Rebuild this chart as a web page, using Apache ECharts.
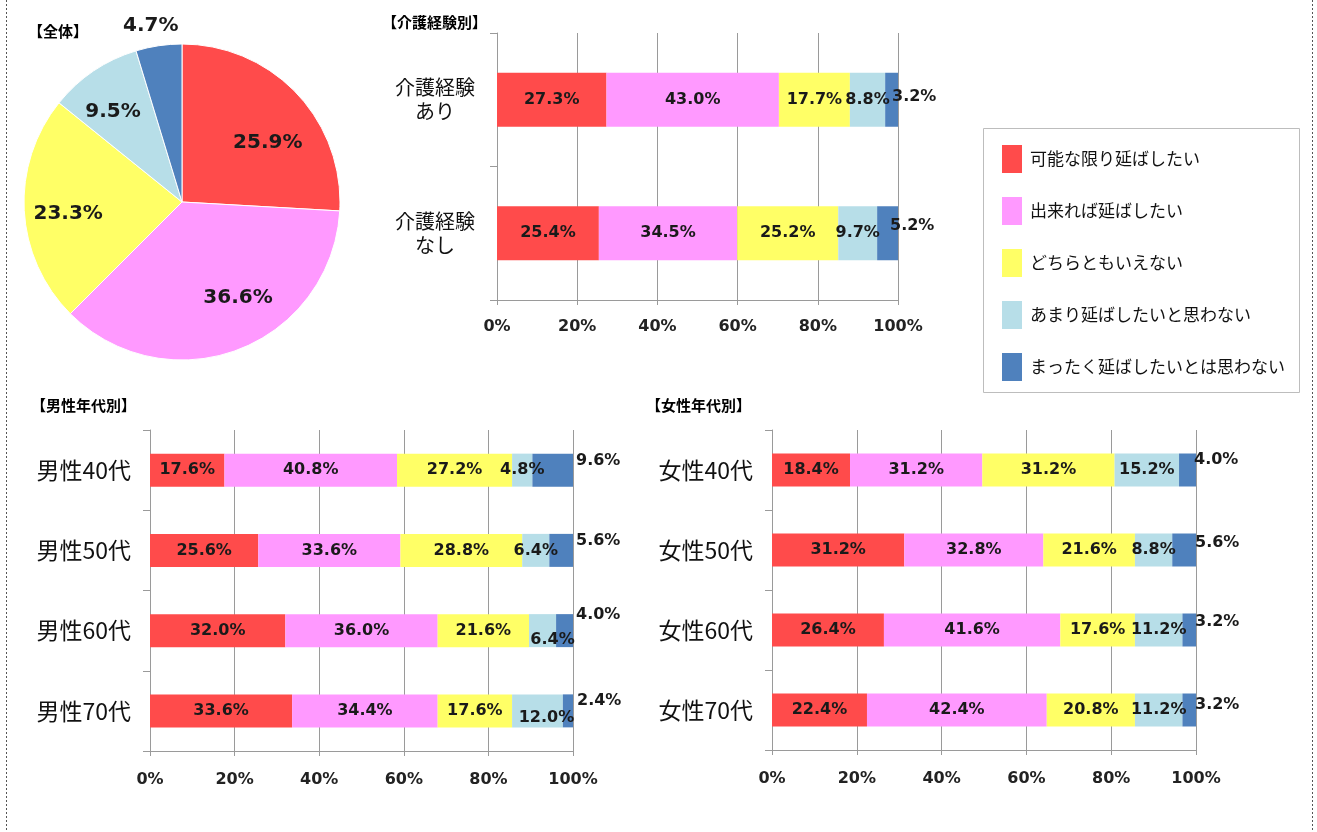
<!DOCTYPE html>
<html>
<head>
<meta charset="utf-8">
<script src="https://cdn.jsdelivr.net/npm/echarts@6/dist/echarts.min.js"></script>
<style>
html,body{margin:0;padding:0;background:#fff;}
#chart{width:1317px;height:832px;}
</style>
</head>
<body>
<div id="chart"></div>
<script>
// ---- data ----
const answerNames = ['可能な限り延ばしたい','出来れば延ばしたい','どちらともいえない','あまり延ばしたいと思わない','まったく延ばしたいとは思わない'];
const pieValues = [25.9, 36.6, 23.3, 9.5, 4.7];

const careCategories = ['介護経験\nあり', '介護経験\nなし'];
const careRed    = [27.3, 25.4];
const carePink   = [43.0, 34.5];
const careYellow = [17.7, 25.2];
const careLight  = [8.8, 9.7];
const careDark   = [3.2, 5.2];

const maleCategories = ['男性40代', '男性50代', '男性60代', '男性70代'];
const maleRed    = [17.6, 25.6, 32.0, 33.6];
const malePink   = [40.8, 33.6, 36.0, 34.4];
const maleYellow = [27.2, 28.8, 21.6, 17.6];
const maleLight  = [4.8, 6.4, 6.4, 12.0];
const maleDark   = [9.6, 5.6, 4.0, 2.4];

const femaleCategories = ['女性40代', '女性50代', '女性60代', '女性70代'];
const femaleRed    = [18.4, 31.2, 26.4, 22.4];
const femalePink   = [31.2, 32.8, 41.6, 42.4];
const femaleYellow = [31.2, 21.6, 17.6, 20.8];
const femaleLight  = [15.2, 8.8, 11.2, 11.2];
const femaleDark   = [4.0, 5.6, 3.2, 3.2];

const axisTicks = [0, 20, 40, 60, 80, 100];

// ---- styles ----
const colors = ['#FF4B4B', '#FF99FF', '#FFFF66', '#B7DEE8', '#4F81BD'];
const numFont = 'DejaVu Sans';
const jpFont = '"Noto Sans CJK JP", sans-serif';
const gridColor = '#9a9a9a';
const pieLabelNudges = [[0, 22], [14, -14], [4, 5], [-3, 8], [26, -12]];

const charts = [
  { cats: careCategories, series: [careRed, carePink, careYellow, careLight, careDark],
    grid: {left: 497, top: 33, width: 401, height: 267}, barWidth: 54,
    catLabel: {fontSize: 20, lineHeight: 24, align: 'center', margin: 62},
    xMargin: 19, outside: [[-8, -3], [-10, -7]], nudges: {} },
  { cats: maleCategories, series: [maleRed, malePink, maleYellow, maleLight, maleDark],
    grid: {left: 150, top: 430, width: 423, height: 321}, barWidth: 33,
    catLabel: {fontSize: 23, align: 'right', margin: 19},
    xMargin: 21, outside: [[1, -9], [1, -10], [1, -16], [2, -10]],
    nudges: {'3-2': [10, 9], '3-3': [9, 7]} },
  { cats: femaleCategories, series: [femaleRed, femalePink, femaleYellow, femaleLight, femaleDark],
    grid: {left: 772, top: 430, width: 424, height: 320}, barWidth: 33,
    catLabel: {fontSize: 23, align: 'right', margin: 19},
    xMargin: 21, outside: [[-4, -10], [-3, -7], [-3, -8], [-3, -5]], nudges: {} }
];

const fmt = p => Number(p.value).toFixed(1) + '%';

const grids = [], xAxes = [], yAxes = [], series = [];
charts.forEach((c, gi) => {
  grids.push(Object.assign({containLabel: false}, c.grid));
  xAxes.push({
    type: 'value', gridIndex: gi, min: axisTicks[0], max: axisTicks[axisTicks.length - 1],
    interval: axisTicks[1] - axisTicks[0],
    axisLine: {show: true, lineStyle: {color: gridColor}},
    axisTick: {show: true, length: 5, lineStyle: {color: gridColor}},
    splitLine: {show: true, lineStyle: {color: gridColor, width: 1}},
    axisLabel: {formatter: '{value}%', fontFamily: numFont, fontWeight: 'bold', fontSize: 16, color: '#222', margin: c.xMargin}
  });
  yAxes.push({
    type: 'category', gridIndex: gi, inverse: true, data: c.cats,
    axisLine: {show: true, lineStyle: {color: gridColor}},
    axisTick: {show: true, length: 7, lineStyle: {color: gridColor}},
    axisLabel: Object.assign({fontFamily: jpFont, color: '#111'}, c.catLabel)
  });
  c.series.forEach((vals, si) => {
    const isLast = si === c.series.length - 1;
    series.push({
      type: 'bar', name: answerNames[si], stack: 'stack' + gi,
      xAxisIndex: gi, yAxisIndex: gi, barWidth: c.barWidth,
      itemStyle: {color: colors[si]},
      label: {
        show: true, formatter: fmt,
        position: isLast ? 'right' : 'inside', distance: 2,
        fontFamily: numFont, fontWeight: 'bold', fontSize: 16, color: '#1a1a1a'
      },
      data: vals.map((v, di) => {
        if (isLast) return {value: v, label: {offset: c.outside[di]}};
        const n = c.nudges[si + '-' + di];
        return n ? {value: v, label: {offset: n}} : v;
      })
    });
  });
});

const pieData = pieValues.map((v, i) => ({name: answerNames[i], value: v, itemStyle: {color: colors[i]}}));
const pieLabelData = pieValues.map((v, i) => ({
  name: answerNames[i], value: v,
  label: i === pieValues.length - 1 ? {position: 'outside'} : {position: 'inside'}
}));

series.push({
  type: 'pie', name: '全体', center: [182, 202], radius: [0, 158], startAngle: 90, clockwise: true,
  silent: true, label: {show: false}, labelLine: {show: false},
  itemStyle: {borderColor: '#fff', borderWidth: 1},
  data: pieData
});
series.push({
  type: 'pie', name: '全体ラベル', center: [182, 202], radius: [72, 158], startAngle: 90, clockwise: true,
  silent: true, itemStyle: {color: 'rgba(0,0,0,0)'},
  label: {show: true, formatter: fmt, fontFamily: numFont, fontWeight: 'bold', fontSize: 20, color: '#1a1a1a'},
  labelLine: {show: false, length: 8, length2: 0},
  labelLayout: p => ({dx: pieLabelNudges[p.dataIndex][0], dy: pieLabelNudges[p.dataIndex][1]}),
  data: pieLabelData
});

const titleStyle = {fontFamily: jpFont, fontWeight: 'bold', fontSize: 15, color: '#000'};
const option = {
  animation: false,
  backgroundColor: '#fff',
  title: [
    {text: '【全体】', left: 28, top: 24, padding: 0, textStyle: titleStyle},
    {text: '【介護経験別】', left: 382, top: 15, padding: 0, textStyle: titleStyle},
    {text: '【男性年代別】', left: 31, top: 398, padding: 0, textStyle: titleStyle},
    {text: '【女性年代別】', left: 646, top: 398, padding: 0, textStyle: titleStyle}
  ],
  legend: {
    data: answerNames, orient: 'vertical', left: 1002, top: 145, padding: 0,
    itemWidth: 20, itemHeight: 28, itemGap: 24, icon: 'rect', selectedMode: false,
    textStyle: {fontFamily: jpFont, fontSize: 17, color: '#111', padding: [0, 0, 0, 3]}
  },
  grid: grids, xAxis: xAxes, yAxis: yAxes, series: series,
  graphic: [
    {type: 'rect', shape: {x: 983.5, y: 128.5, width: 316, height: 264}, style: {fill: 'none', stroke: '#bdbdbd', lineWidth: 1}, silent: true},
    {type: 'line', shape: {x1: 6.5, y1: 0, x2: 6.5, y2: 832}, style: {stroke: '#555', lineWidth: 1, lineDash: [2, 2]}, silent: true},
    {type: 'line', shape: {x1: 1312.5, y1: 0, x2: 1312.5, y2: 832}, style: {stroke: '#555', lineWidth: 1, lineDash: [2, 2]}, silent: true}
  ]
};

const chart = echarts.init(document.getElementById('chart'), null, {renderer: 'canvas'});
chart.setOption(option);
</script>
</body>
</html>
